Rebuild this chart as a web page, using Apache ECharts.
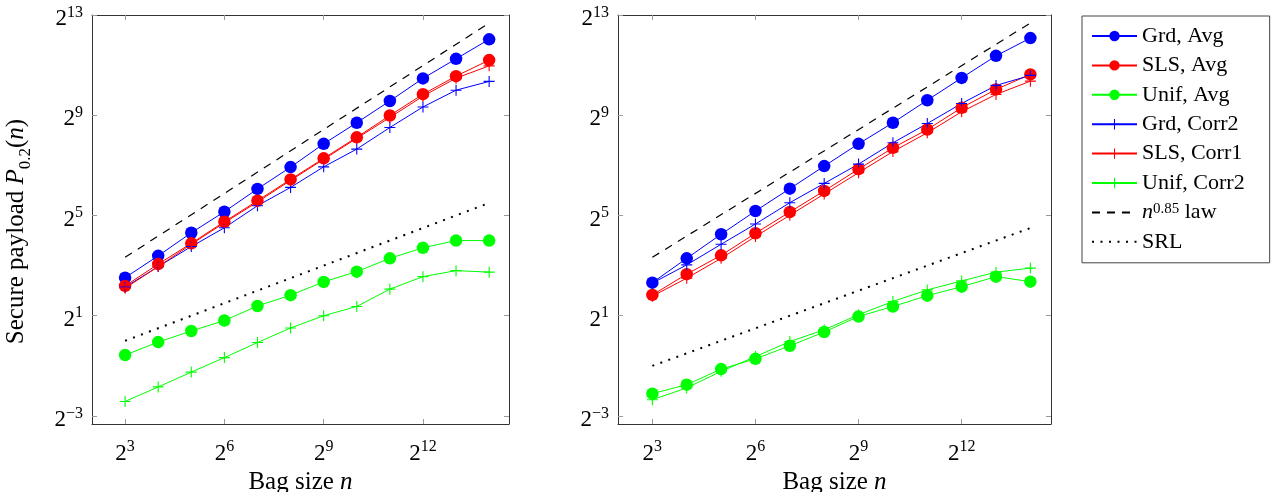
<!DOCTYPE html>
<html>
<head>
<meta charset="utf-8">
<script src="https://cdn.jsdelivr.net/npm/echarts@6/dist/echarts.min.js"></script>
<style>
    html, body { margin: 0; padding: 0; background: #fff; }
    #chart { width: 1271px; height: 492px; }
</style>
</head>
<body>
<div id="chart"></div>
<script>
// x = log2(bag size n), y = log2(secure payload P_0.2(n))
const bagSizeExp = [3, 4, 5, 6, 7, 8, 9, 10, 11, 12, 13, 14];
const lawExp = [3, 14];

const xTicks = [3, 6, 9, 12];
const yTicks = [-3, 1, 5, 9, 13];

// left panel
const leftGrdAvg    = [2.52, 3.39, 4.31, 5.15, 6.06, 6.93, 7.86, 8.70, 9.57, 10.47, 11.25, 12.03];
const leftSlsAvg    = [2.19, 3.06, 3.89, 4.75, 5.59, 6.44, 7.28, 8.12, 8.99, 9.84, 10.56, 11.20];
const leftUnifAvg   = [-0.57, -0.05, 0.39, 0.81, 1.39, 1.82, 2.35, 2.76, 3.29, 3.71, 4.00, 4.00];
const leftGrdCorr2  = [2.14, 2.96, 3.76, 4.51, 5.39, 6.12, 6.94, 7.65, 8.51, 9.33, 10.00, 10.35];
const leftSlsCorr1  = [2.10, 2.96, 3.85, 4.71, 5.54, 6.40, 7.24, 8.08, 8.91, 9.76, 10.48, 10.97];
const leftUnifCorr2 = [-2.42, -1.84, -1.25, -0.67, -0.07, 0.51, 1.00, 1.37, 2.06, 2.56, 2.80, 2.74];
const leftLaw = [3.33, 12.68];
const leftSrl = [0.0, 5.5];

// right panel
const rightGrdAvg    = [2.32, 3.29, 4.25, 5.18, 6.07, 6.97, 7.86, 8.70, 9.60, 10.49, 11.37, 12.08];
const rightSlsAvg    = [1.83, 2.66, 3.41, 4.29, 5.14, 5.98, 6.85, 7.70, 8.43, 9.30, 10.03, 10.63];
const rightUnifAvg   = [-2.11, -1.75, -1.13, -0.72, -0.20, 0.35, 0.97, 1.37, 1.80, 2.16, 2.56, 2.36];
const rightGrdCorr2  = [2.30, 3.03, 3.85, 4.66, 5.51, 6.28, 7.05, 7.90, 8.67, 9.47, 10.19, 10.59];
const rightSlsCorr1  = [1.78, 2.50, 3.29, 4.16, 5.01, 5.86, 6.71, 7.55, 8.30, 9.14, 9.83, 10.36];
const rightUnifCorr2 = [-2.35, -1.88, -1.22, -0.63, -0.03, 0.44, 1.04, 1.57, 2.03, 2.39, 2.74, 2.90];
const rightLaw = [3.33, 12.68];
const rightSrl = [-1.0, 4.5];

const FONT = '"Liberation Serif", "DejaVu Serif", serif';
const PLUS = 'path://M4.5,0H5.5V4.5H10V5.5H5.5V10H4.5V5.5H0V4.5H4.5Z';

const seriesNames = ['Grd, Avg', 'SLS, Avg', 'Unif, Avg', 'Grd, Corr2', 'SLS, Corr1', 'Unif, Corr2', 'n^0.85 law', 'SRL'];

const powRich = {
    b: { fontSize: 23, fontFamily: FONT, color: '#000', verticalAlign: 'bottom', lineHeight: 26 },
    s: { fontSize: 16, fontFamily: FONT, color: '#000', verticalAlign: 'top', lineHeight: 26 }
};
function powLabel(v) {
    const e = v < 0 ? '\u2212' + Math.abs(v) : String(v);
    return '{b|2}{s|' + e + '}';
}

function zip(xs, ys) {
    return xs.map((x, i) => [x, ys[i]]);
}

function markSeries(name, idx, color, symbol, ys) {
    return {
        name: name,
        type: 'line',
        xAxisIndex: idx * 2,
        yAxisIndex: idx * 2,
        data: zip(bagSizeExp, ys),
        symbol: symbol === 'plus' ? PLUS : 'circle',
        symbolSize: symbol === 'plus' ? 11 : 12.5,
        showSymbol: true,
        animation: false,
        lineStyle: { color: color, width: 1 },
        itemStyle: { color: color, borderWidth: 0 },
        emphasis: { disabled: true }
    };
}

function refSeries(name, idx, type, ys) {
    return {
        name: name,
        type: 'line',
        xAxisIndex: idx * 2,
        yAxisIndex: idx * 2,
        data: zip(lawExp, ys),
        symbol: 'circle',
        showSymbol: false,
        animation: false,
        lineStyle: { color: '#000', width: type === 'dashed' ? 1.2 : 2, type: type === 'dashed' ? [8, 7] : [2, 6.5] },
        itemStyle: { color: '#000' },
        emphasis: { disabled: true }
    };
}

function panelSeries(idx, d) {
    return [
        markSeries('Grd, Avg', idx, '#0000ff', 'circle', d.grdAvg),
        markSeries('SLS, Avg', idx, '#ff0000', 'circle', d.slsAvg),
        markSeries('Unif, Avg', idx, '#00ff00', 'circle', d.unifAvg),
        markSeries('Grd, Corr2', idx, '#0000ff', 'plus', d.grdCorr2),
        markSeries('SLS, Corr1', idx, '#ff0000', 'plus', d.slsCorr1),
        markSeries('Unif, Corr2', idx, '#00ff00', 'plus', d.unifCorr2),
        refSeries('n^0.85 law', idx, 'dashed', d.law),
        refSeries('SRL', idx, 'dotted', d.srl)
    ];
}

const frame = { show: true, onZero: false, lineStyle: { color: '#333', width: 1 } };
function ticks(vals) {
    return { show: true, inside: true, length: 5, customValues: vals, lineStyle: { color: '#999', width: 1 } };
}

function xAxes(g) {
    return [{
        type: 'value', gridIndex: g, min: 2, max: 14.6, position: 'bottom',
        axisLine: frame, axisTick: ticks(xTicks), splitLine: { show: false },
        axisLabel: { customValues: xTicks, formatter: powLabel, rich: powRich, margin: 15 },
        name: '{t|Bag size }{i|n}', nameLocation: 'middle', nameGap: 45,
        nameTextStyle: { rich: {
            t: { fontSize: 25, fontFamily: FONT, color: '#000' },
            i: { fontSize: 25, fontFamily: FONT, fontStyle: 'italic', color: '#000' }
        } }
    }, {
        type: 'value', gridIndex: g, min: 2, max: 14.6, position: 'top',
        axisLine: frame, axisTick: ticks(xTicks), splitLine: { show: false },
        axisLabel: { show: false }
    }];
}

function yAxes(g, withName) {
    const left = {
        type: 'value', gridIndex: g, min: -3.32, max: 13, position: 'left',
        axisLine: frame, axisTick: ticks(yTicks), splitLine: { show: false },
        axisLabel: { customValues: yTicks, formatter: powLabel, rich: powRich, margin: 9, padding: [5, 0, 0, 0] }
    };
    if (withName) {
        left.name = '{t|Secure payload }{i|P}{sub|0.2}{t|(}{i|n}{t|)}';
        left.nameLocation = 'middle';
        left.nameGap = 58;
        left.nameTextStyle = { padding: [0, 24, 0, 0], rich: {
            t: { fontSize: 25, fontFamily: FONT, color: '#000', verticalAlign: 'top', lineHeight: 30 },
            i: { fontSize: 25, fontFamily: FONT, fontStyle: 'italic', color: '#000', verticalAlign: 'top', lineHeight: 30 },
            sub: { fontSize: 17, fontFamily: FONT, color: '#000', verticalAlign: 'bottom', lineHeight: 30 }
        } };
    }
    return [left, {
        type: 'value', gridIndex: g, min: -3.32, max: 13, position: 'right',
        axisLine: frame, axisTick: ticks(yTicks), splitLine: { show: false },
        axisLabel: { show: false }
    }];
}

const legendRich = {
    i: { fontSize: 22, fontFamily: FONT, fontStyle: 'italic', color: '#000', verticalAlign: 'bottom', lineHeight: 22 },
    sup: { fontSize: 15, fontFamily: FONT, color: '#000', verticalAlign: 'top', lineHeight: 22 },
    t: { fontSize: 22, fontFamily: FONT, color: '#000', verticalAlign: 'bottom', lineHeight: 22 }
};

const chart = echarts.init(document.getElementById('chart'), null, { renderer: 'canvas' });
chart.setOption({
    backgroundColor: '#fff',
    animation: false,
    grid: [
        { left: 92, top: 15, width: 417, height: 409, outerBoundsMode: 'none', containLabel: false },
        { left: 618, top: 15, width: 433, height: 409, outerBoundsMode: 'none', containLabel: false }
    ],
    xAxis: [...xAxes(0), ...xAxes(1)],
    yAxis: [...yAxes(0, true), ...yAxes(1, false)],
    legend: {
        orient: 'vertical',
        left: 1082, top: 16,
        padding: [9, 25, 10, 9],
        itemWidth: 45, itemHeight: 13, itemGap: 7.4,
        borderColor: '#444', borderWidth: 1,
        selectedMode: false,
        data: seriesNames.map(n => (n === 'n^0.85 law' || n === 'SRL')
            ? { name: n, itemStyle: { opacity: 0 } } : { name: n }),
        formatter: n => n === 'n^0.85 law' ? '{i|n}{sup|0.85}{t| law}' : '{t|' + n + '}',
        textStyle: { fontSize: 22, fontFamily: FONT, color: '#000', rich: legendRich }
    },
    series: [
        ...panelSeries(0, { grdAvg: leftGrdAvg, slsAvg: leftSlsAvg, unifAvg: leftUnifAvg,
            grdCorr2: leftGrdCorr2, slsCorr1: leftSlsCorr1, unifCorr2: leftUnifCorr2, law: leftLaw, srl: leftSrl }),
        ...panelSeries(1, { grdAvg: rightGrdAvg, slsAvg: rightSlsAvg, unifAvg: rightUnifAvg,
            grdCorr2: rightGrdCorr2, slsCorr1: rightSlsCorr1, unifCorr2: rightUnifCorr2, law: rightLaw, srl: rightSrl })
    ]
});
</script>
</body>
</html>
